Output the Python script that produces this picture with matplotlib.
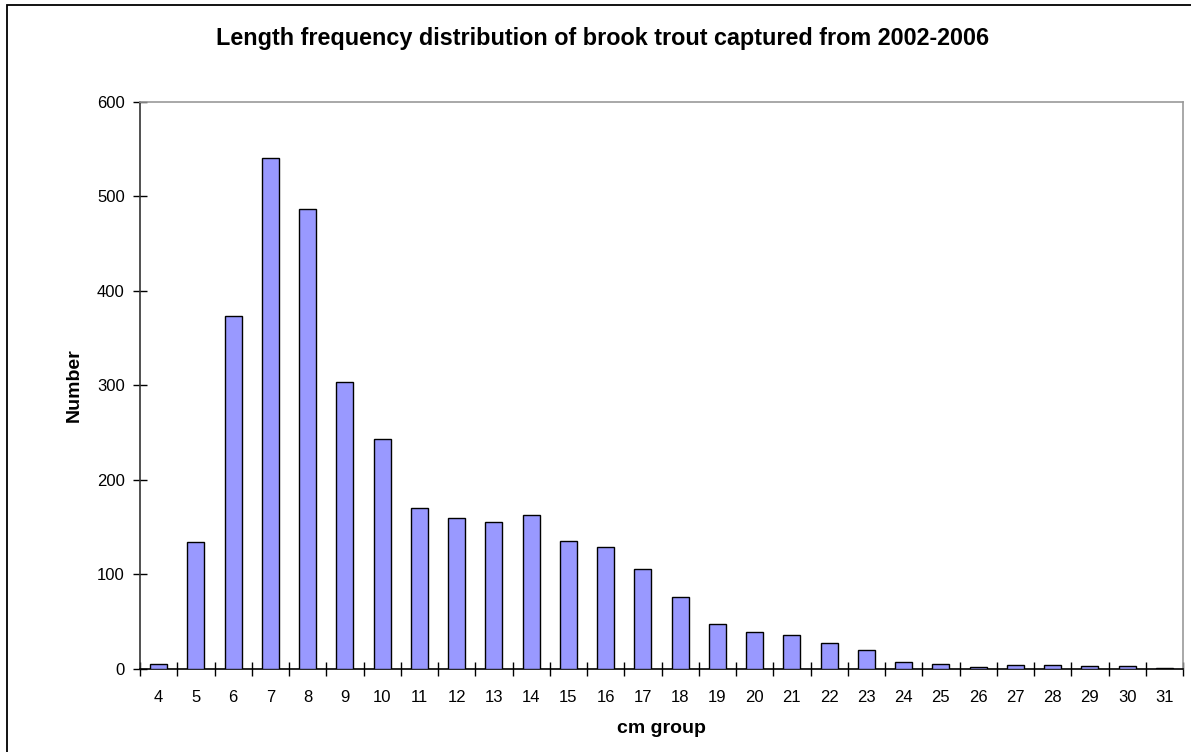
import matplotlib
matplotlib.use("Agg")
import matplotlib.pyplot as plt
from matplotlib.patches import Rectangle
import numpy as np

plt.rcParams["font.family"] = ["Liberation Sans", "DejaVu Sans"]

cm_groups = [str(v) for v in range(4, 32)]
counts = [5, 134, 373, 540, 486, 303, 243, 170, 160, 155, 163, 135, 129, 106,
          76, 47, 39, 36, 27, 20, 7, 5, 1.5, 3.5, 3.5, 2.5, 2.5, 1]

fig = plt.figure(figsize=(11.91, 7.52), dpi=100)
ax = fig.add_axes([140 / 1191, 1 - 668.7 / 752, (1183 - 140) / 1191, (668.7 - 101.7) / 752])

x = np.arange(len(cm_groups))
ax.bar(x, counts, width=0.455, color="#9999FF", edgecolor="black", linewidth=1.0, zorder=3)

ax.set_xlim(-0.5, len(cm_groups) - 0.5)
ax.set_ylim(0, 600)
ax.set_yticks(range(0, 601, 100))
ax.set_xticks(x)
ax.set_xticklabels(cm_groups)
ax.set_xticks(np.arange(-0.5, len(cm_groups), 1.0), minor=True)
ax.tick_params(axis="x", which="major", length=0, pad=15, labelsize=12)
ax.tick_params(axis="x", which="minor", length=10, direction="inout", width=1, color="black")
ax.tick_params(axis="y", length=10, direction="inout", width=1, color="black", labelsize=12, pad=6)

ax.spines["left"].set_color("#333333")
ax.spines["bottom"].set_color("black")
ax.spines["top"].set_color("#999999")
ax.spines["right"].set_color("#999999")
for s in ax.spines.values():
    s.set_linewidth(1.2)

ax.set_xlabel("cm group", fontsize=14, fontweight="bold", labelpad=11)
ax.set_ylabel("Number", fontsize=14, fontweight="bold", labelpad=10)
fig.text(603 / 1191, 1 - 39 / 752,
         "Length frequency distribution of brook trout captured from 2002-2006",
         ha="center", va="center", fontsize=16.8, fontweight="bold")

fig.patches.append(Rectangle((7 / 1191, -0.05), 1.2, 1 - 5 / 752 + 0.05,
                             transform=fig.transFigure, fill=False,
                             edgecolor="black", linewidth=1.3))

fig.savefig("out.png", dpi=100)
